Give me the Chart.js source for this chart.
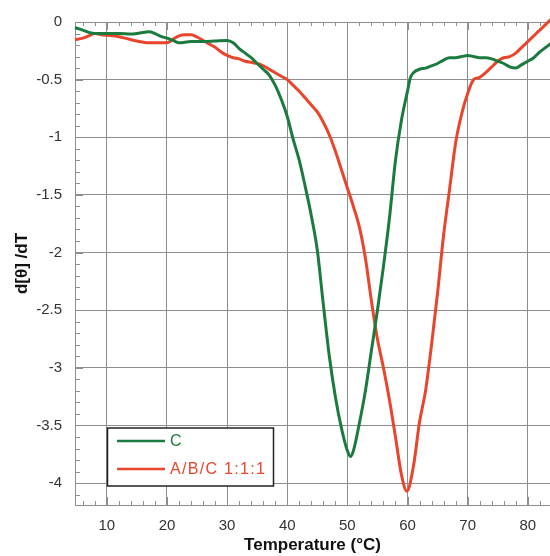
<!DOCTYPE html>
<html>
<head>
<meta charset="utf-8">
<script src="https://cdn.jsdelivr.net/npm/chart.js@4/dist/chart.umd.min.js"></script>
<style>
  html, body { margin: 0; padding: 0; background: #ffffff; }
  #wrap { width: 550px; height: 556px; }
</style>
</head>
<body>
<div id="wrap"><canvas id="c" width="550" height="556"></canvas></div>
<script>
// ---- Data ----
const seriesNames = ["C", "A/B/C 1:1:1"];

const tempC = [4.7, 6, 7, 8, 10, 12, 14, 15.5, 17, 18, 19, 20, 21, 22, 24, 26, 28, 30, 31, 32, 33, 34, 35, 36, 37, 38, 39, 40, 41, 42, 43, 44, 45, 46, 47, 48, 49, 50, 50.5, 51, 52, 53, 54, 55, 56, 57, 58, 59, 60, 60.5, 61, 62, 63, 64, 65, 66, 67, 68, 69, 70, 71, 72, 73, 74, 75, 76, 77, 78, 79, 80, 81, 82, 83, 84];
const valC  = [-0.05, -0.07, -0.09, -0.1, -0.1, -0.1, -0.105, -0.095, -0.085, -0.1, -0.125, -0.14, -0.16, -0.18, -0.17, -0.17, -0.165, -0.16, -0.18, -0.23, -0.27, -0.31, -0.36, -0.41, -0.46, -0.55, -0.67, -0.82, -1.02, -1.2, -1.43, -1.68, -1.98, -2.45, -2.9, -3.25, -3.52, -3.72, -3.77, -3.72, -3.48, -3.2, -2.85, -2.5, -2.12, -1.7, -1.2, -0.85, -0.6, -0.48, -0.44, -0.41, -0.4, -0.38, -0.36, -0.33, -0.31, -0.31, -0.3, -0.29, -0.3, -0.31, -0.31, -0.32, -0.34, -0.36, -0.39, -0.4, -0.37, -0.34, -0.31, -0.26, -0.22, -0.18];

const tempABC = [4.7, 6, 7, 8, 9, 11, 13, 15, 17, 19, 20, 21, 22, 23, 24, 25, 26, 27, 28, 29, 30, 31, 32, 33, 34, 35, 36, 37, 38, 39, 40, 41, 42, 43, 44, 45, 46, 47, 48, 49, 50, 51, 52, 53, 54, 55, 56, 57, 58, 59, 59.9, 61, 62, 63, 64, 65, 66, 67, 68, 69, 70, 71, 72, 73, 74, 75, 76, 77, 78, 79, 80, 81, 82, 83, 84];
const valABC  = [-0.155, -0.14, -0.12, -0.1, -0.11, -0.12, -0.14, -0.165, -0.18, -0.18, -0.18, -0.15, -0.12, -0.11, -0.11, -0.13, -0.16, -0.19, -0.22, -0.26, -0.29, -0.31, -0.32, -0.34, -0.35, -0.36, -0.38, -0.41, -0.44, -0.47, -0.5, -0.55, -0.6, -0.66, -0.72, -0.78, -0.87, -0.98, -1.12, -1.28, -1.44, -1.6, -1.78, -2.05, -2.42, -2.75, -3.0, -3.28, -3.6, -3.93, -4.07, -3.85, -3.47, -3.2, -2.8, -2.35, -1.85, -1.45, -1.05, -0.8, -0.62, -0.5, -0.48, -0.44, -0.39, -0.34, -0.31, -0.3, -0.27, -0.22, -0.17, -0.12, -0.07, -0.02, 0.03];

const xTicks = [10, 20, 30, 40, 50, 60, 70, 80];
const yTicks = [0, -0.5, -1, -1.5, -2, -2.5, -3, -3.5, -4];
const xTitle = "Temperature (°C)";
const yTitle = "d[θ] /dT";

// ---- Styling ----
const GREEN = "#1b7a3e";
const RED = "#e8452c";
const GRID = "#8e8e8e";
const FONT = "'Liberation Sans', Arial, Helvetica, sans-serif";

const pts = (xs, ys) => xs.map((x, i) => ({ x: x, y: ys[i] }));

const minorTicks = {
  id: 'minorTicks',
  beforeDatasetsDraw(chart) {
    const { ctx, chartArea: a, scales: { x, y } } = chart;
    ctx.save();
    ctx.strokeStyle = GRID;
    ctx.lineWidth = 1;
    ctx.beginPath();
    for (let v = 6; v <= 84; v += 2) {
      const px = Math.round(x.getPixelForValue(v)) + 0.5;
      if (px < a.left || px > a.right) continue;
      const len = (v % 10 === 0) ? 8 : 4;
      ctx.moveTo(px, a.bottom); ctx.lineTo(px, a.bottom - len);
      ctx.moveTo(px, a.top); ctx.lineTo(px, a.top + len);
    }
    for (let i = 1; i <= 41; i++) {
      const v = -i / 10;
      const py = Math.round(y.getPixelForValue(v)) + 0.5;
      const len = (i % 5 === 0) ? 8 : 5;
      ctx.moveTo(a.left, py); ctx.lineTo(a.left + len, py);
    }
    ctx.stroke();
    ctx.restore();
  }
};

const boxLegend = {
  id: 'boxLegend',
  afterDraw(chart) {
    const { ctx } = chart;
    const x0 = 107.5, y0 = 428, w = 166, h = 58;
    ctx.save();
    ctx.fillStyle = "#ffffff";
    ctx.fillRect(x0, y0, w, h);
    ctx.strokeStyle = "#222222";
    ctx.lineWidth = 1.5;
    ctx.strokeRect(x0, y0, w, h);
    const rows = [13, 41];
    chart.data.datasets.forEach((ds, i) => {
      const yy = y0 + rows[i];
      ctx.strokeStyle = ds.borderColor;
      ctx.lineWidth = 2.5;
      ctx.beginPath();
      ctx.moveTo(117, yy); ctx.lineTo(165, yy);
      ctx.stroke();
      ctx.fillStyle = ds.borderColor;
      ctx.font = "16px " + FONT;
      try { ctx.letterSpacing = "1.3px"; } catch (e) {}
      ctx.textBaseline = "middle";
      ctx.textAlign = "left";
      ctx.fillText(ds.label, 170, yy + 1);
    });
    ctx.restore();
  }
};

new Chart(document.getElementById('c'), {
  type: 'scatter',
  data: {
    datasets: [
      { label: seriesNames[0], data: pts(tempC, valC), borderColor: GREEN, backgroundColor: GREEN,
        showLine: true, pointRadius: 0, borderWidth: 3, cubicInterpolationMode: 'monotone', clip: 6 },
      { label: seriesNames[1], data: pts(tempABC, valABC), borderColor: RED, backgroundColor: RED,
        showLine: true, pointRadius: 0, borderWidth: 3, cubicInterpolationMode: 'monotone', clip: 6 }
    ]
  },
  options: {
    responsive: false,
    devicePixelRatio: 1,
    animation: false,
    layout: { padding: { top: 22, right: 0, left: 0, bottom: 0 } },
    plugins: { legend: { display: false }, tooltip: { enabled: false } },
    scales: {
      x: {
        type: 'linear', min: 4.7, max: 83.7,
        afterBuildTicks: s => { s.ticks = xTicks.map(v => ({ value: v })); },
        afterFit: s => { s.height = 51; },
        grid: { color: GRID, lineWidth: 1, drawTicks: false },
        border: { color: GRID, width: 1 },
        ticks: { padding: 12, color: '#333333', font: { family: FONT, size: 15 },
                 callback: v => String(v), maxRotation: 0, autoSkip: false },
        title: { display: true, text: xTitle, color: '#111111',
                 font: { family: FONT, size: 17, weight: 'bold', lineHeight: 1.2 },
                 padding: { top: 0, bottom: 0 } }
      },
      y: {
        type: 'linear', min: -4.19, max: 0,
        afterBuildTicks: s => { s.ticks = yTicks.map(v => ({ value: v })); },
        afterFit: s => { s.width = 75; },
        grid: { color: GRID, lineWidth: 1, drawTicks: false },
        border: { color: GRID, width: 1 },
        ticks: { padding: 13, color: '#333333', font: { family: FONT, size: 15 },
                 callback: v => String(Math.round(v * 10) / 10), autoSkip: false },
        title: { display: true, text: yTitle, color: '#111111',
                 font: { family: FONT, size: 17, weight: 'bold', lineHeight: 1.2 },
                 padding: { top: 12, bottom: 0 } }
      }
    }
  },
  plugins: [minorTicks, boxLegend]
});
</script>
</body>
</html>
